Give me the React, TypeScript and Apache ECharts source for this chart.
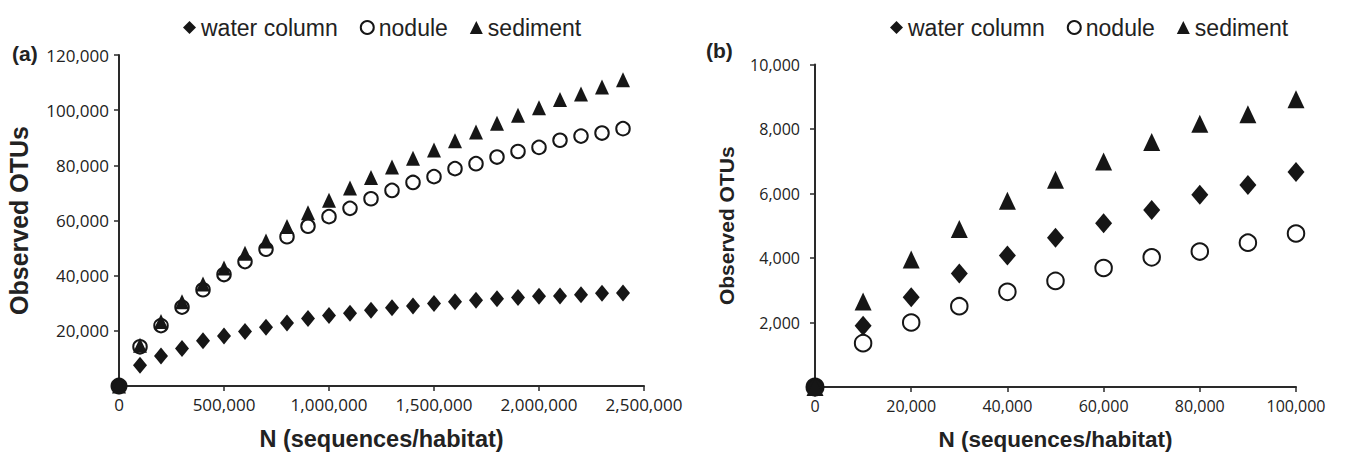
import React, { useEffect, useRef } from "react";
import * as echarts from "echarts";

const seriesNames = ["water column", "nodule", "sediment"];

const xA = [0, 100000, 200000, 300000, 400000, 500000, 600000, 700000, 800000, 900000, 1000000, 1100000, 1200000, 1300000, 1400000, 1500000, 1600000, 1700000, 1800000, 1900000, 2000000, 2100000, 2200000, 2300000, 2400000];
const waterA = [0, 7500, 10900, 13600, 16400, 18100, 19800, 21300, 22800, 24500, 25600, 26400, 27500, 28400, 29000, 29900, 30500, 31100, 31600, 32100, 32500, 32600, 33100, 33600, 33700];
const noduleA = [0, 14200, 21900, 28600, 34900, 40400, 45100, 49600, 54100, 57900, 61400, 64400, 67900, 70900, 73800, 75900, 78800, 80600, 83000, 85000, 86500, 89100, 90600, 91700, 93300];
const sedimentA = [0, 14800, 23400, 30500, 37000, 42800, 48100, 52600, 57800, 62800, 67300, 71800, 75600, 79400, 82600, 85600, 88900, 92100, 95300, 98200, 100900, 103900, 105900, 108400, 111000];

const xB = [0, 10000, 20000, 30000, 40000, 50000, 60000, 70000, 80000, 90000, 100000];
const waterB = [0, 1900, 2780, 3520, 4080, 4630, 5080, 5490, 5960, 6260, 6670];
const noduleB = [0, 1360, 2000, 2505, 2950, 3290, 3690, 4020, 4200, 4475, 4760];
const sedimentB = [0, 2650, 3950, 4900, 5775, 6430, 6990, 7600, 8160, 8460, 8920];

const xTicksA = { min: 0, max: 2500000, interval: 500000 };
const yTicksA = { min: 0, max: 120000, interval: 20000 };
const xTicksB = { min: 0, max: 100000, interval: 20000 };
const yTicksB = { min: 0, max: 10000, interval: 2000 };

const INK = "#161616";
const AXIS = "#2a2a2a";
const TICK_FONT = "'Open Sans', 'Noto Sans', sans-serif";
const TEXT_FONT = "'Liberation Sans', Arial, sans-serif";

const fmt = (v: number) => v.toLocaleString("en-US");

function pairs(xs: number[], ys: number[]) {
  return xs.map((x, i) => [x, ys[i]]);
}

function axisBase() {
  return {
    axisLine: { show: true, onZero: false, lineStyle: { color: AXIS, width: 2 } },
    axisTick: { show: true, length: 5, lineStyle: { color: AXIS, width: 1.5 } },
    splitLine: { show: false },
  };
}

function labelStyle(fontSize: number, margin: number, hideZero: boolean) {
  return {
    color: "#222", fontSize, fontFamily: TICK_FONT, margin,
    formatter: (v: number) => (hideZero && v === 0 ? "" : fmt(v)),
  };
}

function buildSeries(grid: number, xs: number[], w: number[], n: number[], s: number[], size: number, origin: number) {
  const water = pairs(xs, w);
  const nod: any[] = pairs(xs, n);
  nod[0] = { value: nod[0], symbolSize: origin, itemStyle: { color: INK, borderColor: INK } };
  const sed = pairs(xs, s);
  return [
    {
      name: seriesNames[0], type: "scatter", xAxisIndex: grid, yAxisIndex: grid, clip: false,
      symbol: "diamond", symbolSize: [size, size + 3], itemStyle: { color: INK, opacity: 1 }, data: water, z: 3,
    },
    {
      name: seriesNames[1], type: "scatter", xAxisIndex: grid, yAxisIndex: grid, clip: false,
      symbol: "circle", symbolSize: size - 0.5, itemStyle: { color: "#fff", borderColor: INK, borderWidth: 2, opacity: 1 }, data: nod, z: 2,
    },
    {
      name: seriesNames[2], type: "scatter", xAxisIndex: grid, yAxisIndex: grid, clip: false,
      symbol: "triangle", symbolSize: [size, size + 1], itemStyle: { color: INK, opacity: 1 }, data: sed, z: 4,
    },
  ];
}

function legendAt(left: number) {
  return {
    left, top: 11, orient: "horizontal", itemWidth: 13, itemHeight: 13, itemGap: 22,
    data: seriesNames,
    textStyle: { fontFamily: TEXT_FONT, fontSize: 23, color: "#222" },
    selectedMode: false,
  };
}

export default function App() {
  const ref = useRef<HTMLDivElement>(null);
  useEffect(() => {
    if (!ref.current) return;
    const chart = echarts.init(ref.current, undefined, { renderer: "svg" });
    const nameStyle = (fontSize: number) => ({ fontFamily: TEXT_FONT, fontWeight: "bold", fontSize, color: "#222" });
    chart.setOption({
      animation: false,
      backgroundColor: "#fff",
      legend: [legendAt(178), legendAt(885)],
      grid: [
        { left: 119, top: 55, width: 525, height: 338.5 },
        { left: 815, top: 64.5, width: 481, height: 328.5 },
      ],
      xAxis: [
        {
          gridIndex: 0, type: "value", ...xTicksA, ...axisBase(),
          name: "N (sequences/habitat)", nameLocation: "middle", nameGap: 41, nameTextStyle: nameStyle(23.5),
          axisLabel: labelStyle(17, 10, false),
        },
        {
          gridIndex: 1, type: "value", ...xTicksB, ...axisBase(),
          name: "N (sequences/habitat)", nameLocation: "middle", nameGap: 41, nameTextStyle: nameStyle(22.5),
          axisLabel: labelStyle(16, 11, false),
        },
      ],
      yAxis: [
        {
          gridIndex: 0, type: "value", ...yTicksA, ...axisBase(),
          name: "Observed OTUs", nameLocation: "middle", nameGap: 88, nameTextStyle: nameStyle(25),
          axisLabel: labelStyle(17, 10, true),
        },
        {
          gridIndex: 1, type: "value", ...yTicksB, ...axisBase(),
          name: "Observed OTUs", nameLocation: "middle", nameGap: 78, nameTextStyle: nameStyle(21),
          axisLabel: labelStyle(16, 15, true),
        },
      ],
      graphic: [
        { type: "text", left: 12, top: 43, style: { text: "(a)", fontFamily: TEXT_FONT, fontWeight: "bold", fontSize: 21, fill: "#222" } },
        { type: "text", left: 706, top: 40, style: { text: "(b)", fontFamily: TEXT_FONT, fontWeight: "bold", fontSize: 21, fill: "#222" } },
      ],
      series: [
        ...buildSeries(0, xA, waterA, noduleA, sedimentA, 14, 15),
        ...buildSeries(1, xB, waterB, noduleB, sedimentB, 17, 17),
      ],
    });
    return () => chart.dispose();
  }, []);
  return (
    <div
      ref={ref}
      style={{ position: "absolute", left: 0, top: 0, width: "1352px", height: "456px", background: "#fff" }}
    />
  );
}
